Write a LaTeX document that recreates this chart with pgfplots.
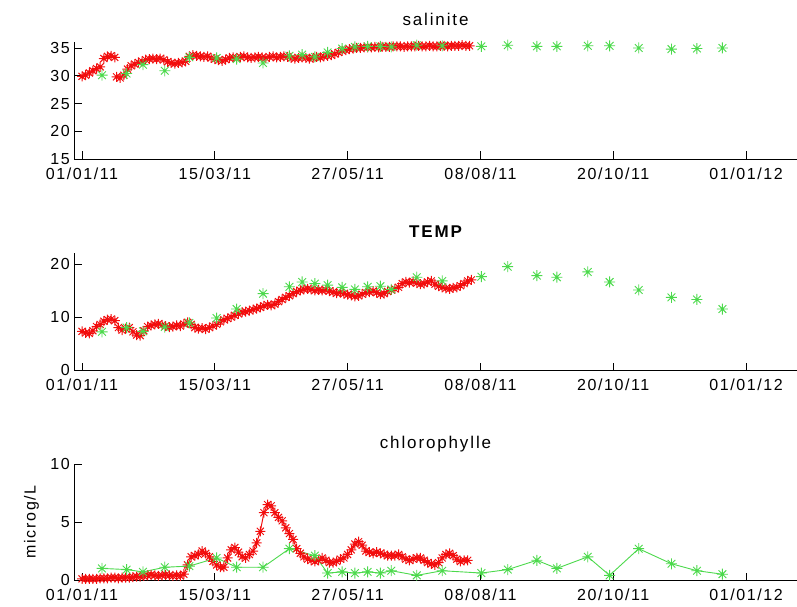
\documentclass[border=0pt]{standalone}
\usepackage{fontspec}
\setmainfont{Liberation Sans}
\newfontfamily\tickfont[LetterSpace=10]{Liberation Sans}
\newfontfamily\ttlfont[LetterSpace=11]{Liberation Sans}
\usepackage{pgfplots}
\pgfplotsset{compat=1.18}
\definecolor{mgreen}{rgb}{0.30,0.85,0.30}
\definecolor{mred}{rgb}{0.95,0.05,0.05}
\pgfdeclareplotmark{mstar}{%
 \pgfpathmoveto{\pgfqpoint{-\pgfplotmarksize}{0pt}}\pgfpathlineto{\pgfqpoint{\pgfplotmarksize}{0pt}}%
 \pgfpathmoveto{\pgfqpoint{0pt}{-\pgfplotmarksize}}\pgfpathlineto{\pgfqpoint{0pt}{\pgfplotmarksize}}%
 \pgfpathmoveto{\pgfqpoint{-0.7\pgfplotmarksize}{-0.7\pgfplotmarksize}}\pgfpathlineto{\pgfqpoint{0.7\pgfplotmarksize}{0.7\pgfplotmarksize}}%
 \pgfpathmoveto{\pgfqpoint{-0.7\pgfplotmarksize}{0.7\pgfplotmarksize}}\pgfpathlineto{\pgfqpoint{0.7\pgfplotmarksize}{-0.7\pgfplotmarksize}}%
 \pgfusepathqstroke}
\pgfplotsset{
 mypanel/.style={
  scale only axis, width=723pt, xmin=-4.4, xmax=393,
  axis x line*=bottom, axis y line*=left,
  axis line style={-, line width=0.8pt, black},
  tick align=inside, major tick length=7.5pt,
  tick style={black, line width=0.8pt},
  xtick={0,73,146,219,292,365},
  xticklabels={01/01/11,15/03/11,27/05/11,08/08/11,20/10/11,01/01/12},
  tick label style={font=\tickfont\fontsize{16}{19}\selectfont, inner sep=0pt},
  yticklabel style={xshift=-4pt},
  xticklabel style={yshift=-8.5pt},
  /pgf/number format/assume math mode=true,
  clip=false,
  title style={font=\ttlfont\fontsize{17}{20}\selectfont, at={(0.5,1)}, anchor=base, yshift=10pt, inner sep=0pt},
 },
 redm/.style={only marks, mark=mstar, mark size=5pt, color=mred, line width=1pt},
 greenm/.style={only marks, mark=mstar, mark size=5.5pt, color=mgreen, line width=0.9pt},
}
\begin{document}
\begin{tikzpicture}
\useasboundingbox (0,0) rectangle (797pt,-607pt);
% ---------------- salinite
\begin{axis}[mypanel, at={(74pt,-159pt)}, anchor=south west, height=117pt,
  ymin=15, ymax=36.08, ytick={15,20,25,30,35}, title={salinite}]
\addplot[redm] coordinates {
(0,29.9)(2,30.1)(4,30.5)(6,30.9)(8,31.3)(10,31.6)(12,33.1)(14,33.5)(16,33.6)(18,33.3)
(19,29.8)(21,29.6)(23,30.1)(25,31.2)(27,31.8)(29,32.1)(31,32.4)(33,32.6)(35,32.9)(37,33.0)
(39,33.1)(41,33.0)(43,33.1)(45,32.9)(47,32.5)(49,32.3)(51,32.2)(53,32.3)(55,32.4)(57,32.6)
(59,33.5)(61,33.7)(63,33.6)(65,33.5)(67,33.4)(69,33.5)(71,33.2)(73,33.0)(75,32.8)(77,32.7)
(79,32.9)(81,33.2)(83,33.3)(85,33.2)(87,33.4)(89,33.5)(91,33.3)(93,33.2)(95,33.3)(97,33.4)
(99,33.3)(101,33.2)(103,33.4)(105,33.5)(107,33.3)(109,33.4)(111,33.5)(113,33.4)(115,33.2)(117,33.1)
(119,33.2)(121,33.3)(123,33.2)(125,33.1)(127,33.2)(129,33.4)(131,33.3)(133,33.5)(135,33.6)(137,33.7)
(139,33.9)(141,34.2)(143,34.5)(145,34.6)(147,34.8)(149,34.9)(151,35.0)(153,35.0)(155,35.1)(157,35.1)
(159,35.1)(161,35.2)(163,35.1)(165,35.2)(167,35.2)(169,35.2)(171,35.3)(173,35.3)(175,35.3)(177,35.2)
(179,35.3)(181,35.3)(183,35.3)(185,35.4)(187,35.3)(189,35.3)(191,35.4)(193,35.3)(195,35.3)(197,35.4)
(199,35.4)(201,35.3)(203,35.4)(205,35.4)(207,35.4)(209,35.5)(211,35.4)(213,35.4)
};
\addplot[greenm] coordinates {
(11,30.1)(24.5,30.4)(33.5,32.0)(45.5,30.9)(59,33.3)(74,33.2)(85,33.0)(99.5,32.3)(114,33.6)(121,33.8)
(128,33.4)(135,34.2)(143,34.9)(150,35.2)(157,35.3)(164,35.3)(170,35.2)(184,35.5)(198,35.4)(219.5,35.3)
(234,35.5)(250,35.3)(261,35.3)(278,35.4)(290,35.4)(306,35.0)(324,34.8)(338,34.9)(352,35.0)
};
\end{axis}
% ---------------- TEMP
\begin{axis}[mypanel, at={(74pt,-370pt)}, anchor=south west, height=117pt,
  ymin=0, ymax=22.07, ytick={0,10,20}, title={\bfseries TEMP}]
\addplot[redm] coordinates {
(0,7.3)(2,7.0)(4,6.9)(6,7.4)(8,8.2)(10,8.6)(12,9.2)(14,9.5)(16,9.6)(18,9.3)
(20,8.0)(22,7.5)(24,7.8)(26,8.0)(28,7.2)(30,6.6)(32,6.5)(34,7.4)(36,8.2)(38,8.4)
(40,8.6)(42,8.7)(44,8.5)(46,8.3)(48,8.1)(50,8.2)(52,8.4)(54,8.3)(56,8.7)(58,9.0)
(60,8.6)(62,8.0)(64,7.8)(66,7.9)(68,7.7)(70,8.0)(72,8.3)(74,8.6)(76,9.1)(78,9.5)
(80,9.7)(82,10.0)(84,10.3)(86,10.6)(88,10.9)(90,11.0)(92,11.2)(94,11.4)(96,11.6)(98,11.8)
(100,12.1)(102,12.3)(104,12.2)(106,12.4)(108,12.9)(110,13.3)(112,13.7)(114,14.0)(116,14.4)(118,14.8)
(120,15.0)(122,15.2)(124,15.3)(126,15.2)(128,15.0)(130,15.1)(132,15.0)(134,15.1)(136,14.9)(138,14.7)
(140,14.5)(142,14.6)(144,14.4)(146,14.2)(148,14.1)(150,13.9)(152,14.0)(154,14.3)(156,14.6)(158,14.7)
(160,14.9)(162,14.6)(164,14.3)(166,14.4)(168,14.8)(170,15.1)(172,15.3)(174,15.6)(176,16.3)(178,16.6)
(180,16.5)(182,16.7)(184,16.4)(186,16.2)(188,16.3)(190,16.6)(192,16.8)(194,16.2)(196,15.8)(198,15.6)
(200,15.4)(202,15.3)(204,15.5)(206,15.6)(208,15.9)(210,16.3)(212,16.8)(214,17.0)
};
\addplot[greenm] coordinates {
(11,7.2)(24.5,8.0)(33.5,7.3)(45.5,8.1)(59,8.9)(74,9.8)(85,11.5)(99.5,14.4)(114,15.7)(121,16.6)
(128,16.3)(135,16.0)(143,15.6)(150,15.2)(157,15.7)(164,15.8)(170,15.2)(184,17.5)(198,16.8)(219.5,17.6)
(234,19.5)(250,17.8)(261,17.5)(278,18.5)(290,16.6)(306,15.1)(324,13.7)(338,13.3)(352,11.5)
};
\end{axis}
% ---------------- chlorophylle
\begin{axis}[mypanel, at={(74pt,-580pt)}, anchor=south west, height=116pt,
  ymin=0, ymax=10, ytick={0,5,10}, title={chlorophylle},
  ylabel={microg/L},
  ylabel style={font=\ttlfont\fontsize{16}{19}\selectfont, at={(axis description cs:-0.0588,0.5)}, anchor=center, inner sep=0pt}]
\addplot[mred, mark=mstar, mark size=5pt, line width=1pt] coordinates {
(0,0.1)(2,0.1)(4,0.1)(6,0.1)(8,0.1)(10,0.15)(12,0.15)(14,0.15)(16,0.2)(18,0.2)
(20,0.15)(22,0.2)(24,0.2)(26,0.2)(28,0.25)(30,0.3)(32,0.3)(34,0.35)(36,0.4)(38,0.45)
(40,0.4)(42,0.35)(44,0.4)(46,0.45)(48,0.4)(50,0.35)(52,0.4)(54,0.35)(56,0.5)(58,1.3)
(60,2.0)(62,2.1)(64,2.2)(66,2.5)(68,2.3)(70,2.0)(72,1.6)(74,1.3)(76,1.1)(78,1.1)
(80,1.9)(82,2.6)(84,2.8)(86,2.4)(88,2.0)(90,1.9)(92,2.2)(94,2.5)(96,3.2)(98,4.2)
(100,5.8)(102,6.5)(104,6.4)(106,5.8)(108,5.4)(110,5.1)(112,4.5)(114,4.0)(116,3.5)(118,2.7)
(120,2.3)(122,2.0)(124,1.8)(126,1.7)(128,1.6)(130,1.7)(132,1.9)(134,1.7)(136,1.5)(138,1.5)
(140,1.6)(142,1.8)(144,1.9)(146,2.2)(148,2.6)(150,3.1)(152,3.3)(154,3.0)(156,2.5)(158,2.4)
(160,2.3)(162,2.4)(164,2.3)(166,2.2)(168,2.1)(170,2.1)(172,2.1)(174,2.2)(176,2.0)(178,1.8)
(180,1.7)(182,1.8)(184,1.9)(186,1.9)(188,1.7)(190,1.5)(192,1.4)(194,1.3)(196,1.5)(198,1.9)
(200,2.2)(202,2.3)(204,2.1)(206,1.8)(208,1.6)(210,1.7)(212,1.7)
};
\addplot[mgreen, mark=mstar, mark size=5.5pt, line width=0.9pt] coordinates {
(11,1.0)(24.5,0.9)(33.5,0.7)(45.5,1.1)(59,1.2)(74,1.9)(85,1.1)(99.5,1.1)(114,2.7)
(128,2.1)(135,0.6)(143,0.7)(150,0.6)(157,0.7)(164,0.6)(170,0.8)(184,0.4)(198,0.8)(219.5,0.6)
(234,0.9)(250,1.7)(261,1.0)(278,2.0)(290,0.4)(306,2.7)(324,1.4)(338,0.8)(352,0.5)
};
\end{axis}
\end{tikzpicture}
\end{document}
